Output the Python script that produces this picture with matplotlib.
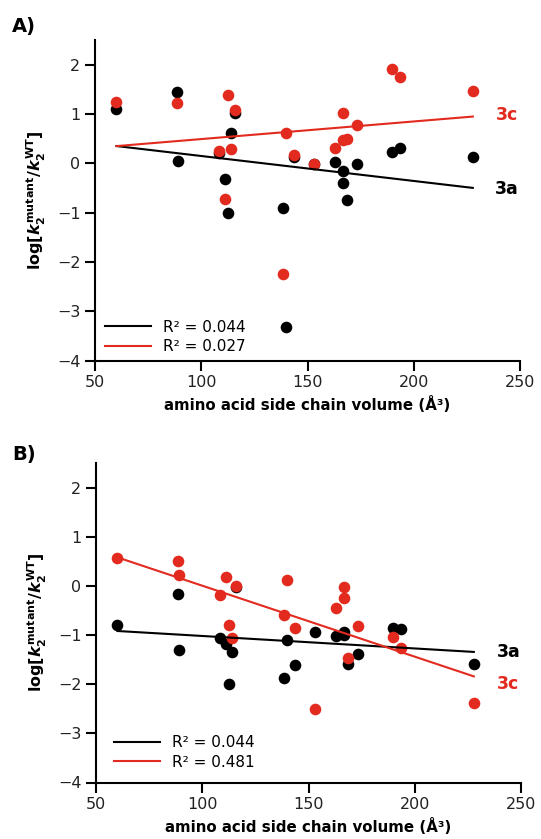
import matplotlib
matplotlib.use('Agg')
import matplotlib.pyplot as plt
import numpy as np

plt.rcParams['font.family'] = ['DejaVu Sans']
plt.rcParams['mathtext.fontset'] = 'custom'
plt.rcParams['mathtext.rm'] = 'DejaVu Sans:bold'
plt.rcParams['mathtext.it'] = 'DejaVu Sans:italic:bold'
plt.rcParams['mathtext.bf'] = 'DejaVu Sans:bold'

# amino acid side chain volumes (Å^3): G A S C D P N T E V Q H M I L K R F Y W
volume = [60.1, 88.6, 89.0, 108.5, 111.1, 112.7, 114.1, 116.1, 138.4, 140.0,
          143.8, 153.2, 162.9, 166.7, 166.7, 168.6, 173.4, 189.9, 193.6, 227.8]

# Panel A
a_3a = [1.10, 1.44, 0.05, 0.21, -0.31, -1.00, 0.62, 1.03, -0.90, -3.31,
        0.13, -0.01, 0.03, -0.15, -0.39, -0.74, -0.01, 0.23, 0.32, 0.13]
a_3c = [1.25, 1.23, np.nan, 0.26, -0.72, 1.39, 0.29, 1.09, -2.24, 0.62,
        0.17, -0.01, 0.32, 1.02, 0.47, 0.50, 0.77, 1.92, 1.74, 1.47]
# Panel B
b_3a = [-0.80, -0.17, -1.31, -1.07, -1.19, -1.99, -1.35, -0.03, -1.87, -1.11,
        -1.60, -0.94, -1.01, -0.94, -1.00, -1.58, -1.39, -0.85, -0.87, -1.58]
b_3c = [0.57, 0.51, 0.22, -0.19, 0.18, -0.80, -1.07, 0.00, -0.60, 0.12,
        -0.85, -2.50, -0.45, -0.02, -0.25, -1.46, -0.82, -1.05, -1.27, -2.38]

# linear fits (slope, intercept)
fit_a_3a = (-0.00506, 0.655)
fit_a_3c = (0.00357, 0.135)
fit_b_3a = (-0.00254, -0.765)
fit_b_3c = (-0.01444, 1.448)

r2_a = ['0.044', '0.027']
r2_b = ['0.044', '0.481']

series_labels = ['3a', '3c']
xticks = [50, 100, 150, 200, 250]
yticks = [-4, -3, -2, -1, 0, 1, 2]

RED = '#e32a1f'
BLACK = '#000000'

fig = plt.figure(figsize=(5.41, 8.39), dpi=100)
W, H = 541, 839


def px_axes(left, top, right, bottom):
    return fig.add_axes([left / W, 1 - bottom / H, (right - left) / W, (bottom - top) / H])


def draw_panel(ax, y3a, y3c, f3a, f3c, r2, lab_y, leg_anchor):
    x = np.array(volume)
    ax.scatter(x, y3a, s=70, color=BLACK, linewidths=0, zorder=1)
    ax.scatter(x, y3c, s=70, color=RED, linewidths=0, zorder=1.5)
    xl = np.array([x.min(), x.max()])
    h1, = ax.plot(xl, f3a[0] * xl + f3a[1], color=BLACK, lw=1.5, zorder=2)
    h2, = ax.plot(xl, f3c[0] * xl + f3c[1], color=RED, lw=1.5, zorder=2)
    ax.text(244, lab_y[0], series_labels[0], color=BLACK, fontsize=12.5,
            fontweight='bold', ha='center', va='center')
    ax.text(244, lab_y[1], series_labels[1], color=RED, fontsize=12.5,
            fontweight='bold', ha='center', va='center')
    ax.legend([h1, h2], ['R² = ' + r2[0], 'R² = ' + r2[1]], loc='lower left',
              bbox_to_anchor=leg_anchor, frameon=False, fontsize=11,
              handlelength=3.0, handletextpad=0.8, borderpad=0, borderaxespad=0,
              labelspacing=0.3)
    ax.set_xlim(50, 250)
    ax.set_ylim(-4, 2.5)
    ax.set_xticks(xticks)
    ax.set_yticks(yticks)
    for s in ['top', 'right']:
        ax.spines[s].set_visible(False)
    for s in ['left', 'bottom']:
        ax.spines[s].set_linewidth(1.5)
    ax.tick_params(labelsize=11.5, width=1.5, length=7, colors='black',
                   labelcolor='#222222')
    ax.set_xlabel('amino acid side chain volume (Å³)', fontsize=10.8,
                  fontweight='bold', labelpad=4)
    ax.set_ylabel(r'log[$\mathit{k}_\mathrm{2}^\mathrm{mutant}/\mathit{k}_\mathrm{2}^\mathrm{WT}$]',
                  fontsize=11.5, fontweight='bold', labelpad=6)


axA = px_axes(95, 40, 520, 360.7)
draw_panel(axA, a_3a, a_3c, fit_a_3a, fit_a_3c, r2_a, (-0.52, 0.99), (0.024, 0.02))
axB = px_axes(96, 463, 521, 782.5)
draw_panel(axB, b_3a, b_3c, fit_b_3a, fit_b_3c, r2_b, (-1.35, -1.99), (0.042, 0.04))

fig.text(12 / W, 1 - 32 / H, 'A)', fontsize=14, fontweight='bold', ha='left', va='baseline')
fig.text(12 / W, 1 - 460 / H, 'B)', fontsize=14, fontweight='bold', ha='left', va='baseline')

fig.savefig('out.png', dpi=100)
